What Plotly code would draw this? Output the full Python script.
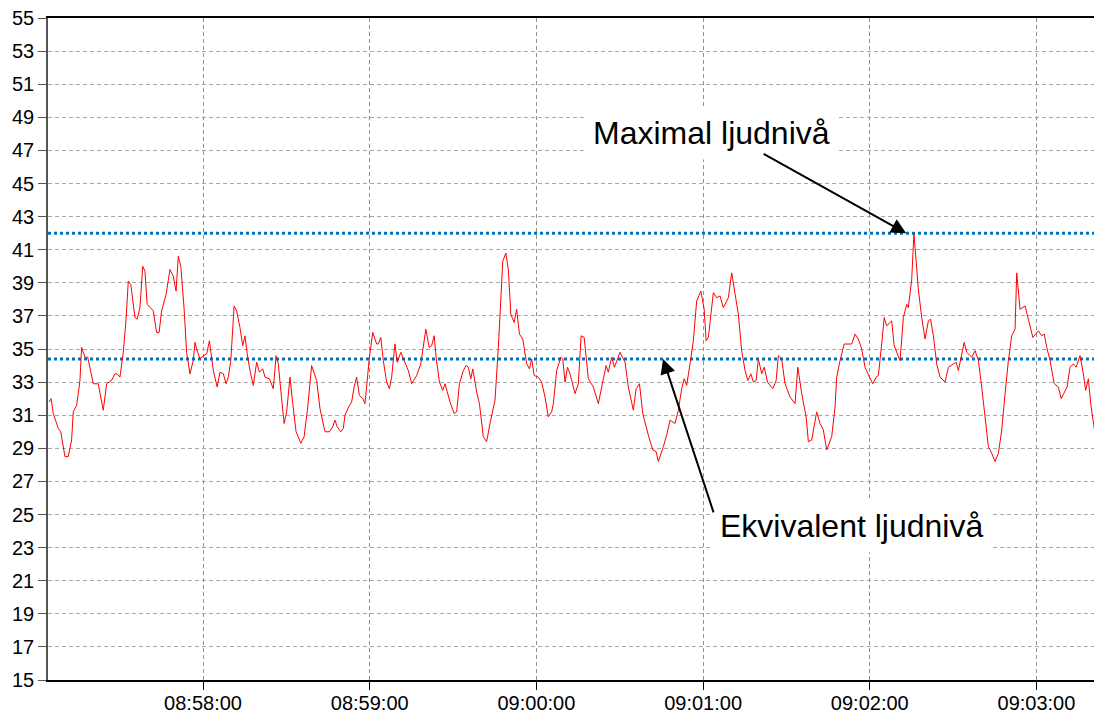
import pandas as pd
import plotly.graph_objects as go

# seconds after 08:57:00
seconds = [4.6, 5.3, 6.1, 7.9, 8.8, 10.3, 11.5, 12.7, 13.3, 14.5, 15.1, 15.7, 16.3, 17.5, 18.5,
           20.5, 22.3, 24.1, 25.3, 27.1, 28.3, 29.1, 30.1, 31.3, 32.3, 33.1, 34.0, 35.5, 36.3,
           37.3, 38.3, 39.1, 39.9, 42.1, 43.3, 44.2, 45.1, 46.7, 48.1, 49.3, 50.3, 51.1, 52.0,
           53.2, 54.1, 55.3, 56.5, 57.1, 57.7, 58.9, 60.1, 61.3, 62.3, 63.1, 63.7, 65.1, 66.1,
           67.3, 68.3, 69.1, 70.0, 71.2, 72.1, 73.3, 74.3, 75.1, 75.9, 76.9, 78.1, 79.3, 80.3,
           81.5, 82.3, 83.9, 85.3, 86.3, 87.1, 88.0, 89.2, 90.1, 91.3, 92.3, 93.5, 95.2, 96.4,
           97.7, 99.1, 100.9, 102.1, 103.9, 105.5, 106.7, 107.5, 108.3, 109.6, 110.5, 111.1,
           112.7, 113.5, 114.4, 115.3, 116.3, 117.5, 118.3, 119.9, 121.1, 122.5, 123.1, 124.0,
           124.9, 126.1, 127.1, 127.9, 129.1, 129.9, 131.2, 132.4, 133.9, 135.1, 136.9, 138.4,
           139.3, 140.2, 141.4, 142.3, 143.2, 143.9, 145.1, 146.3, 147.1, 148.9, 150.4, 151.3,
           152.3, 153.7, 154.7, 155.5, 156.4, 157.1, 158.5, 159.5, 160.9, 162.1, 163.3, 165.1,
           166.3, 167.2, 167.9, 169.0, 169.9, 170.8, 172.0, 172.9, 173.9, 175.1, 176.5, 177.5,
           178.3, 179.2, 180.7, 181.9, 183.1, 184.3, 185.5, 186.1, 187.3, 188.8, 189.5, 190.3,
           191.2, 192.1, 193.9, 195.1, 196.1, 197.2, 198.7, 200.5, 202.3, 204.1, 205.1, 205.9,
           207.1, 208.1, 210.1, 211.9, 213.1, 214.9, 215.9, 217.1, 218.3, 220.3, 221.9, 223.1,
           223.9, 225.7, 226.9, 228.1, 229.9, 231.1, 232.3, 233.2, 234.1, 235.3, 236.5, 237.7,
           239.2, 240.4, 241.1, 241.9, 242.9, 243.7, 244.9, 246.1, 247.3, 249.1, 250.3, 251.5,
           252.7, 253.9, 255.1, 256.1, 257.2, 258.1, 259.1, 259.9, 261.1, 262.0, 263.2, 265.1,
           266.3, 267.1, 268.3, 269.5, 271.3, 273.1, 274.1, 275.5, 277.1, 277.9, 279.1, 280.9,
           282.1, 283.3, 284.5, 286.3, 287.5, 288.1, 289.3, 290.8, 293.5, 294.7, 295.9, 297.1,
           298.3, 299.9, 301.1, 302.3, 303.1, 304.3, 305.2, 306.1, 307.9, 308.8, 309.9, 310.9,
           312.1, 313.3, 313.9, 315.1, 315.9, 316.7, 317.5, 318.7, 319.9, 321.1, 321.9, 322.9,
           324.1, 325.3, 327.1, 328.3, 330.1, 331.1, 331.9, 333.1, 334.0, 334.9, 336.7, 337.9,
           339.1, 340.3, 341.5, 342.7, 343.9, 345.1, 346.3, 347.5, 348.7, 349.9, 351.1, 352.3,
           352.9, 353.5, 354.1, 355.9, 357.1, 358.7, 360.7, 361.9, 362.8, 363.7, 364.9, 366.4,
           367.9, 368.9, 369.8, 371.0, 372.1, 373.3, 374.3, 375.7, 376.9, 377.7, 378.7, 379.6,
           380.9, 381.7, 382.7, 383.3]

levels = [31.8, 32.0, 31.1, 30.2, 30.0, 28.5, 28.5, 29.5, 31.2, 31.6, 32.3, 33.1, 35.1, 34.5, 34.5,
          32.9, 32.9, 31.3, 32.9, 33.1, 33.5, 33.5, 33.3, 34.8, 36.8, 39.1, 38.9, 36.9, 36.8,
          37.5, 40.0, 39.7, 37.7, 37.3, 36.0, 36.0, 37.3, 38.3, 39.8, 39.4, 38.5, 40.6, 40.0,
          37.4, 34.8, 33.5, 34.3, 35.4, 35.0, 34.4, 34.6, 34.7, 35.5, 34.3, 33.7, 32.7, 33.6,
          33.5, 32.9, 33.3, 34.3, 37.6, 37.3, 36.3, 35.2, 35.8, 34.7, 33.7, 32.8, 34.2, 33.6,
          33.8, 33.3, 33.2, 32.6, 34.6, 34.1, 32.5, 30.5, 31.2, 33.3, 31.7, 30.0, 29.3, 29.7,
          31.5, 34.0, 33.1, 31.4, 30.0, 30.0, 30.3, 30.7, 30.3, 30.0, 30.2, 31.0,
          31.6, 31.8, 32.7, 33.3, 32.2, 32.0, 31.7, 34.5, 36.0, 35.3, 35.3, 35.7,
          34.3, 33.0, 32.6, 33.3, 35.3, 34.2, 34.8, 34.3, 33.7, 32.9, 33.4, 34.1,
          35.3, 36.2, 35.1, 35.2, 35.8, 34.5, 33.0, 32.5, 32.9, 31.8, 31.1, 31.2,
          32.9, 33.7, 34.0, 33.9, 33.2, 33.8, 32.4, 31.7, 29.7, 29.4, 30.5, 31.9,
          35.1, 38.6, 40.3, 40.8, 39.8, 37.1, 36.6, 37.4, 35.9, 35.6, 34.1, 33.8,
          34.4, 33.4, 33.3, 33.0, 32.1, 30.9, 31.2, 31.7, 33.7, 34.5, 34.4, 33.0,
          33.9, 33.5, 32.3, 32.9, 35.8, 35.7, 33.2, 32.7, 31.7, 33.2, 34.0, 33.6,
          34.5, 33.9, 34.8, 34.2, 32.7, 31.3, 32.6, 32.9, 31.1, 29.8, 28.9, 28.8,
          28.2, 29.1, 29.8, 30.7, 30.5, 31.3, 32.6, 33.2, 32.8, 34.1, 35.5, 37.9,
          38.5, 37.4, 35.5, 35.7, 37.4, 38.4, 38.1, 38.2, 37.5, 38.1, 39.6, 38.2,
          37.1, 34.9, 33.7, 33.1, 33.5, 33.0, 33.1, 34.4, 33.5, 33.9, 33.0, 32.6,
          33.1, 34.6, 34.4, 32.9, 32.1, 31.7, 33.9, 32.3, 30.9, 29.4, 29.5, 31.2,
          30.5, 30.1, 28.9, 29.7, 31.5, 33.3, 34.3, 35.3, 35.3, 35.9, 35.6, 35.0,
          33.9, 33.3, 32.9, 33.3, 33.4, 35.3, 36.9, 36.4, 36.7, 35.2, 34.7, 34.3,
          36.9, 37.7, 37.5, 39.2, 42.0, 40.4, 38.6, 36.9, 35.6, 36.7, 36.8, 35.8,
          34.1, 33.3, 33.0, 33.9, 34.1, 34.2, 33.7, 34.7, 35.4, 34.8, 34.5, 34.9,
          34.3, 32.7, 30.9, 29.1, 28.7, 28.2, 28.7, 30.1, 32.3, 34.3, 35.8, 36.2,
          39.6, 38.7, 37.4, 37.6, 36.8, 35.7, 36.1, 35.8, 35.9, 35.1, 34.3, 32.9,
          32.7, 32.0, 32.3, 32.7, 33.9, 34.1, 33.9, 34.6, 33.5, 32.5, 33.2, 31.6,
          30.1, 30.3, 31.1, 31.5]

max_level = 42.0
eq_level = 34.4
label_max = "Maximal ljudnivå"
label_eq = "Ekvivalent ljudnivå"

base = pd.Timestamp("2020-01-01 08:57:00")
times = [base + pd.Timedelta(seconds=s) for s in seconds]
x_start = base + pd.Timedelta(seconds=4.2)
x_end = base + pd.Timedelta(seconds=383.6)

fig = go.Figure()
fig.add_trace(go.Scatter(x=[x_start, x_end], y=[max_level, max_level], mode="lines",
                         line=dict(color="#0070C0", width=3, dash="dot"), hoverinfo="skip"))
fig.add_trace(go.Scatter(x=[x_start, x_end], y=[eq_level, eq_level], mode="lines",
                         line=dict(color="#0070C0", width=3, dash="dot"), hoverinfo="skip"))
fig.add_trace(go.Scatter(x=times, y=levels, mode="lines",
                         line=dict(color="#FF0000", width=1)))

font = dict(family="Arial, Liberation Sans, sans-serif", color="black")

# text boxes
fig.add_annotation(x=base + pd.Timedelta(seconds=242.9), y=48.05, text=label_max, showarrow=False,
                   font=dict(size=32, **font), bgcolor="white", borderpad=8)
fig.add_annotation(x=base + pd.Timedelta(seconds=293.3), y=24.3, text=label_eq, showarrow=False,
                   font=dict(size=32, **font), bgcolor="white", borderpad=8)
# arrows
fig.add_annotation(x=base + pd.Timedelta(seconds=313.1), y=max_level, text="", showarrow=True,
                   ax=-144, ay=-80, arrowhead=2, arrowsize=1.5, arrowwidth=2,
                   arrowcolor="black", standoff=0)
fig.add_annotation(x=base + pd.Timedelta(seconds=225.6), y=eq_level, text="", showarrow=True,
                   ax=51, ay=155, arrowhead=2, arrowsize=1.5, arrowwidth=2,
                   arrowcolor="black", standoff=0)

# page body adds an 8px margin, so the figure is sized to fill the rest of the window
fig.update_layout(
    width=1094, height=705,
    margin=dict(l=40, r=0, t=10, b=33, autoexpand=False),
    paper_bgcolor="white", plot_bgcolor="white",
    showlegend=False,
    font=dict(size=20, **font),
)
fig.update_xaxes(
    range=[x_start, x_end], type="date", tickformat="%H:%M:%S", dtick=60000,
    tick0=base, showgrid=True, gridcolor="#909090", griddash="4px,3px", gridwidth=1,
    ticks="outside", ticklen=8, tickcolor="black", showline=True, linecolor="black",
    linewidth=1.5, mirror=True, zeroline=False, tickfont=dict(size=20), automargin=False,
    ticklabeloverflow="allow", ticklabelstandoff=-4,
)
fig.update_yaxes(
    range=[15, 55], dtick=2, tick0=15, showgrid=True, gridcolor="#a8a8a8",
    griddash="4px,3px", gridwidth=1, ticks="outside", ticklen=8, tickcolor="#555555",
    showline=True, linecolor="#555555", linewidth=1.5, zeroline=False, tickfont=dict(size=20),
    automargin=False, ticklabeloverflow="allow",
)

fig.write_html("out.html")
